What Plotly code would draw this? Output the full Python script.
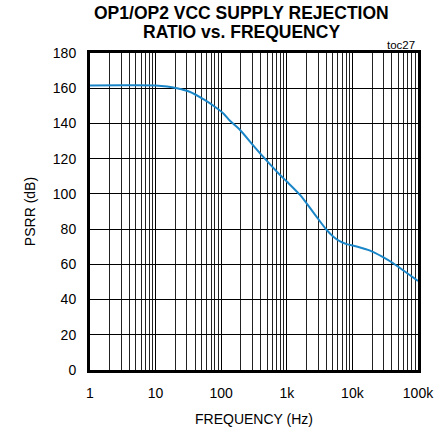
import plotly.graph_objects as go

freq = [1, 3, 10, 15, 21, 33, 55, 80, 108, 136, 194, 300, 438, 790, 1000, 1590,
        2500, 4057, 5130, 6500, 8150, 12000, 18600, 28000, 41900, 60000, 100000]
psrr = [161.6, 161.7, 161.6, 161.0, 160.0, 158.0, 153.5, 149.5, 145.7, 141.5, 136.3,
        128.0, 121.0, 110.7, 107.0, 99.4, 89.8, 79.5, 75.7, 73.0, 71.5, 70.0, 67.8,
        64.5, 60.6, 56.5, 50.5]

x_tickvals = [1, 10, 100, 1000, 10000, 100000]
x_ticktext = ["1", "10", "100", "1k", "10k", "100k"]
y_tickvals = [0, 20, 40, 60, 80, 100, 120, 140, 160, 180]

title_lines = ["OP1/OP2 VCC SUPPLY REJECTION", "RATIO vs. FREQUENCY"]
x_title = "FREQUENCY (Hz)"
y_title = "PSRR (dB)"
tag = "toc27"

FONT = "Liberation Sans, Arial, sans-serif"

fig = go.Figure()
fig.add_trace(go.Scatter(
    x=freq, y=psrr, mode="lines",
    line=dict(color="#1a86c8", width=2, shape="spline", smoothing=0.8),
    hoverinfo="skip", showlegend=False,
))

fig.update_layout(
    width=446, height=431,
    margin=dict(l=90, r=28, t=53, b=61),
    paper_bgcolor="white", plot_bgcolor="white",
    font=dict(family=FONT, size=14, color="black"),
    showlegend=False,
)

fig.update_xaxes(
    type="log", range=[0, 5], automargin=False,
    tickvals=x_tickvals, ticktext=x_ticktext,
    showgrid=True, gridcolor="black", gridwidth=1,
    minor=dict(dtick="D1", showgrid=True, gridcolor="#222222", gridwidth=1, ticks=""),
    showline=True, mirror=True, linecolor="black", linewidth=3,
    ticks="", ticklabelstandoff=8,
    title=dict(text=x_title, standoff=15, font=dict(size=14)),
    zeroline=False,
)
fig.update_yaxes(
    range=[0, 180], tickvals=y_tickvals, automargin=False,
    showgrid=True, gridcolor="black", gridwidth=1,
    showline=True, mirror=True, linecolor="black", linewidth=3,
    ticks="", ticklabelstandoff=8,
    title=dict(text=y_title, standoff=14, font=dict(size=14)),
    zeroline=False,
)

for i, line in enumerate(title_lines):
    fig.add_annotation(text="<b>" + line + "</b>", xref="paper", yref="paper",
                       x=0.462, y=1.0, xanchor="center", yanchor="middle",
                       yshift=40 - 19 * i, showarrow=False,
                       font=dict(family=FONT, size=17.5, color="black"))

fig.add_annotation(text=tag, xref="paper", yref="paper", x=0.997, y=1.0,
                   xanchor="right", yanchor="middle", showarrow=False, yshift=8,
                   font=dict(family=FONT, size=11.5, color="black"))

fig.write_html("out.html",
               config={"displayModeBar": False},
               post_script="document.body.style.margin='0';document.body.style.overflow='hidden';")
